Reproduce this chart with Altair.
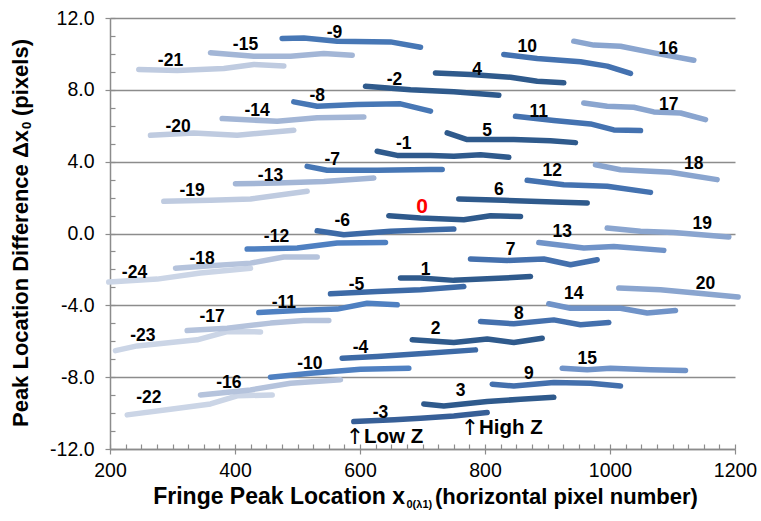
import altair as alt
import pandas as pd

ORDERS = list(range(-24, 21))

XS = [
    [198, 275.5, 344.8, 424.8],
    [208.8, 243.5, 339.5, 387.5, 440.8],
    [227.5, 296.8, 360.8, 403.5, 459.5],
    [246.1, 307.5, 382.1, 430.1, 478.1],
    [264.8, 334.1, 403.5, 494.1],
    [286.1, 360.8, 424.8, 515.5],
    [304.8, 360.8, 424.8, 478.1, 531.5],
    [323.5, 387.5, 456.8, 510.1, 550.1],
    [344.8, 424.8, 488.8, 568.8],
    [360.8, 430.1, 488.8, 542.1, 587.5],
    [379.5, 467.5, 531.5, 606.1],
    [400.8, 467.5, 542.1, 622.1],
    [419.5, 499.5, 563.5, 640.8],
    [438.1, 499.5, 563.5, 611.5, 659.5],
    [456.8, 520.8, 600.8, 678.1],
    [475.5, 510.1, 563.5, 648.8, 696.8],
    [494.1, 531.5, 595.5, 664.8, 712.8],
    [515.5, 547.5, 627.5, 712.8, 731.5],
    [531.5, 574.1, 648.8, 712.8, 750.1],
    [552.8, 627.5, 696.8, 766.1],
    [571.5, 627.5, 712.8, 784.8],
    [590.1, 655, 696.8, 750.1, 803.5],
    [608.8, 680.8, 750.1, 822.1],
    [627.5, 659.5, 712.8, 750.1, 792.8, 838.1],
    [646.1, 696.8, 766.1, 808.8, 856.8],
    [664.8, 696.8, 750.1, 830.1, 872.8],
    [683.5, 750.1, 803.5, 846.1, 891.5],
    [702.1, 734.1, 803.5, 856.8, 910.1],
    [720.8, 776.8, 840.8, 883.5, 926.1],
    [739.5, 771.5, 846.1, 904.8, 944.8],
    [758.1, 830.1, 910.1, 963.5],
    [776.8, 835.5, 894.1, 936.8, 979.5],
    [792.8, 846.1, 910.1, 952.8, 998.1],
    [811.5, 846.1, 910.1, 968.8, 1016.8],
    [830.1, 883.5, 952.8, 995.5, 1032.8],
    [848.8, 910.1, 968.8, 1006.1, 1048.8],
    [867.5, 926.1, 995.5, 1064.8],
    [886.1, 958.1, 1006.1, 1086.1],
    [902.1, 936.8, 1016.8, 1059.5, 1104.8],
    [923.5, 963.5, 1000.8, 1064.8, 1120.8],
    [942.1, 974.1, 1016.8, 1070.1, 1134.1],
    [958.1, 995.5, 1038.1, 1070.1, 1112.8, 1152.8],
    [976.8, 1016.8, 1096.8, 1171.4],
    [995.5, 1048.8, 1102.1, 1190.1],
    [1014.1, 1080.8, 1150.1, 1205],
]

YS = [
    [-2.70, -2.54, -2.20, -1.93],
    [-6.52, -6.26, -5.92, -5.46, -5.48],
    [-10.10, -9.79, -9.49, -9.04, -8.99],
    [9.13, 9.07, 9.19, 9.41, 9.33],
    [5.47, 5.60, 5.47, 5.75],
    [1.79, 1.85, 1.92, 2.35],
    [-1.93, -1.80, -1.65, -1.31, -1.31],
    [-5.40, -5.27, -4.99, -4.84, -4.84],
    [-8.99, -8.71, -8.34, -8.15],
    [10.06, 9.87, 9.87, 10.02, 9.93],
    [6.40, 6.25, 6.44, 6.49],
    [2.77, 2.81, 2.90, 3.09],
    [-0.87, -0.81, -0.53, -0.50],
    [-4.40, -4.29, -4.21, -3.88, -3.97],
    [-8.00, -7.78, -7.56, -7.50],
    [10.86, 10.89, 10.71, 10.67, 10.37],
    [7.33, 7.09, 7.18, 7.22, 6.81],
    [3.74, 3.52, 3.52, 3.56, 3.56],
    [0.15, -0.07, 0.12, 0.21, 0.25],
    [-3.36, -3.23, -3.13, -2.95],
    [-6.94, -6.85, -6.66, -6.48],
    [-10.47, -10.37, -10.29, -10.16, -9.97],
    [8.20, 8.01, 7.89, 7.70],
    [4.58, 4.35, 4.35, 4.30, 4.39, 4.24],
    [0.99, 0.86, 0.77, 0.99, 0.95],
    [-2.48, -2.48, -2.61, -2.48, -2.39],
    [-5.92, -6.07, -5.88, -6.07, -5.83],
    [-9.49, -9.60, -9.36, -9.23, -9.12],
    [8.94, 8.85, 8.70, 8.48, 8.39],
    [5.60, 5.23, 5.23, 5.17, 5.06],
    [1.92, 1.85, 1.75, 1.70],
    [-1.42, -1.50, -1.42, -1.74, -1.46],
    [-4.90, -5.03, -4.81, -5.08, -4.96],
    [-8.39, -8.49, -8.30, -8.34, -8.49],
    [9.97, 9.74, 9.56, 9.32, 8.91],
    [6.53, 6.29, 6.10, 5.77, 5.73],
    [2.96, 2.72, 2.63, 2.29],
    [-0.50, -0.81, -0.72, -0.94],
    [-3.91, -4.16, -4.16, -4.43, -4.29],
    [-7.50, -7.59, -7.50, -7.59, -7.63],
    [10.71, 10.49, 10.43, 10.06, 9.65],
    [7.27, 7.09, 7.03, 6.77, 6.71, 6.34],
    [3.83, 3.55, 3.41, 3.00],
    [0.30, 0.12, 0.06, -0.20],
    [-3.04, -3.13, -3.36, -3.53],
]

LABEL_X = [239.2, 252.5, 262.1, 296.8, 309.1, 331.5, 347.5, 363.5, 390.1,
           416.8, 435.5, 456.8, 466.4, 478.1, 519.7, 559.2, 531.5, 555.5,
           571.5, 594.4, 600.8, 632.8, 655.2, 670.1, 699.5, 704.8, 720.8,
           760.8, 787.5, 803.5, 822.1, 840.8, 854.1, 870.1, 867.5, 886.1,
           907.5, 923.5, 942.1, 963.5, 1093.1, 1094.1, 1134.1, 1147.5, 1152.8]
LABEL_Y = [-2.20, -5.70, -9.17, 9.59, 5.94, 2.35, -1.42, -4.66, -8.33,
           10.47, 6.80, 3.22, -0.20, -3.87, -7.26, 11.18, 7.68, 4.11,
           0.71, -2.86, -6.38, -9.97, 8.57, 4.99, 1.48, -2.02, -5.32,
           -8.76, 9.13, 5.69, 2.40, -0.90, -4.47, -7.83, 10.39, 6.77,
           3.46, 0.06, -3.36, -7.00, 10.30, 7.18, 3.89, 0.54, -2.80]

COLORS = (["#cbd5e6"] * 3 + ["#bfcbe0"] * 3 + ["#b5c3dc"] * 3 + ["#a3b6d6"] * 3
          + ["#4f80c1"] * 3 + ["#4777b5"] * 3 + ["#3d6aa6"] * 3 + ["#375f97"]
          + ["#2f5a8c"] * 9 + ["#4470ad"] * 3 + ["#4472b0"] * 3
          + ["#7093c8"] * 3 + ["#8aa5cf"] * 5)

X_TICKS = [200, 400, 600, 800, 1000, 1200]
Y_TICKS = [-12, -8, -4, 0, 4, 8, 12]
X_MINOR = list(range(200, 1201, 25))
Y_MINOR = list(range(-12, 13))

ANNOT_TEXT = ["Low Z", "High Z"]
ANNOT_X = [592, 776]
ANNOT_Y = [-11.31, -10.84]
ARROW = "\u2191"

X_TITLE = ["Fringe Peak Location x", "0(\u03bb1)", "(horizontal pixel number)"]
Y_TITLE = ["Peak Location Difference \u0394x", "0", "(pixels)"]

FONT = "Liberation Sans"
GRAY = "#8c8c8c"

rows = []
for o, xs, ys in zip(ORDERS, XS, YS):
    for j, (x, y) in enumerate(zip(xs, ys)):
        rows.append({"order": str(o), "idx": j, "x": x, "y": y})
lines_df = pd.DataFrame(rows)

labels_df = pd.DataFrame({
    "order": [str(o) for o in ORDERS],
    "x": LABEL_X,
    "y": LABEL_Y,
    "tcolor": ["#ff0000" if o == 0 else "#000000" for o in ORDERS],
    "fsize": [21 if o == 0 else 17.5 for o in ORDERS],
})
annot_df = pd.DataFrame({"t": ANNOT_TEXT, "a": [ARROW] * len(ANNOT_TEXT), "x": ANNOT_X, "y": ANNOT_Y})

xscale = alt.Scale(domain=[200, 1200], nice=False, zero=False)
yscale = alt.Scale(domain=[-12, 12], nice=False, zero=False)

y_label_expr = "datum.value < 0 ? '-' + format(-datum.value, '.1f') : format(datum.value, '.1f')"

lines = alt.Chart(lines_df).mark_line(
    strokeWidth=5.5, strokeCap="round", strokeJoin="round"
).encode(
    x=alt.X("x:Q", scale=xscale, axis=alt.Axis(
        values=X_TICKS, format="d", orient="bottom", title=None,
        labelFont=FONT, labelFontSize=19.5, labelColor="#000000", labelPadding=7,
        labelFlush=False, labelOverlap=False,
        tickSize=5, tickColor=GRAY, tickWidth=1.2,
        domainColor=GRAY, domainWidth=1.5, grid=False)),
    y=alt.Y("y:Q", scale=yscale, axis=alt.Axis(
        values=Y_TICKS, labelExpr=y_label_expr, orient="left", title=None,
        labelFont=FONT, labelFontSize=19.5, labelColor="#000000", labelPadding=11,
        labelFlush=False, labelOverlap=False,
        tickSize=5, tickColor=GRAY, tickWidth=1.2,
        domainColor=GRAY, domainWidth=1.5,
        grid=True, gridColor=GRAY, gridWidth=1.3)),
    color=alt.Color("order:N", scale=alt.Scale(domain=[str(o) for o in ORDERS], range=COLORS), legend=None),
    order=alt.Order("idx:Q"),
)

labels = alt.Chart(labels_df).mark_text(
    font=FONT, fontWeight="bold", align="center", baseline="middle"
).encode(
    x=alt.X("x:Q", scale=xscale, axis=alt.Axis(
        values=X_MINOR, labels=False, domain=False, grid=False, orient="bottom",
        title=None, tickSize=5, offset=-5, tickColor=GRAY, tickWidth=1.2)),
    y=alt.Y("y:Q", scale=yscale, axis=alt.Axis(
        values=Y_MINOR, labels=False, domain=False, grid=False, orient="left",
        title=None, tickSize=5, offset=-5, tickColor=GRAY, tickWidth=1.2)),
    text="order:N",
    color=alt.Color("tcolor:N", scale=None),
    size=alt.Size("fsize:Q", scale=None),
)

annot_arrow = alt.Chart(annot_df).mark_text(
    font="DejaVu Sans", fontSize=22, fontWeight="normal", align="center", baseline="middle", color="#000000"
).encode(
    x=alt.X("x:Q", scale=xscale, axis=None),
    y=alt.Y("y:Q", scale=yscale, axis=None),
    text="a:N",
)

annot = alt.Chart(annot_df).mark_text(
    font=FONT, fontSize=20.5, fontWeight="bold", align="left", baseline="middle", color="#000000", dx=9
).encode(
    x=alt.X("x:Q", scale=xscale, axis=None),
    y=alt.Y("y:Q", scale=yscale, axis=None),
    text="t:N",
)


def title_piece(txt, x, y, size, align, angle=0):
    return alt.Chart(pd.DataFrame({"t": [txt]})).mark_text(
        font=FONT, fontSize=size, fontWeight="bold", align=align,
        baseline="middle", angle=angle, color="#000000"
    ).encode(x=alt.value(x), y=alt.value(y), text="t:N")


xt1 = title_piece(X_TITLE[0], 295, 479, 23, "right")
xt2 = title_piece(X_TITLE[1], 296.5, 487, 11, "left")
xt3 = title_piece(X_TITLE[2], 325, 479, 22, "left")

yt1 = title_piece(Y_TITLE[0], -89, 112, 22, "right", 270)
yt2 = title_piece(Y_TITLE[1], -83, 111, 13, "left", 270)
yt3 = title_piece(Y_TITLE[2], -89, 98, 22, "left", 270)

chart = alt.layer(
    lines, labels, annot_arrow, annot, xt1, xt2, xt3, yt1, yt2, yt3
).resolve_axis(
    x="independent", y="independent"
).properties(
    width=625, height=431,
    autosize=alt.AutoSizeParams(type="none"),
    padding={"left": 110, "top": 18, "right": 26, "bottom": 72},
    background="#ffffff",
).configure_view(stroke=None)

chart.save("out.html", embed_options={"renderer": "svg", "actions": False})
